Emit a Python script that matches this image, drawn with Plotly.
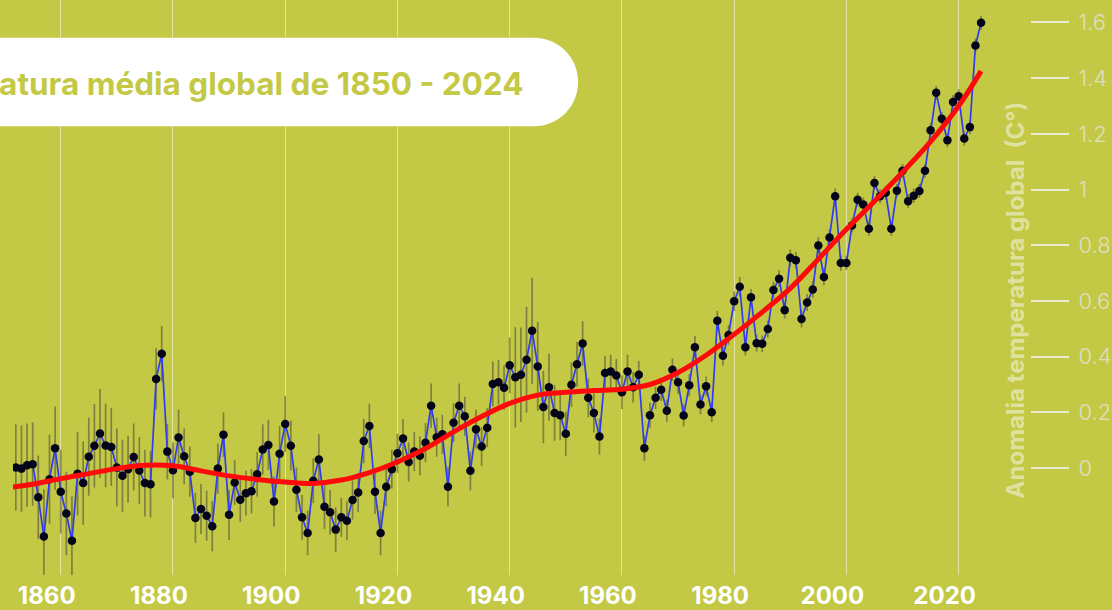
import plotly.graph_objects as go

# ---------------- data ----------------
years = list(range(1850, 2025))

anomaly = [
    # 1850-1859
    -0.180, 0.000, 0.002, -0.002, 0.010, 0.014, -0.105, -0.246, -0.040, 0.071,
    # 1860-1869
    -0.085, -0.163, -0.261, -0.020, -0.054, 0.041, 0.080, 0.124, 0.081, 0.076,
    # 1870-1879
    0.002, -0.028, -0.004, 0.040, -0.009, -0.054, -0.058, 0.320, 0.410, 0.059,
    # 1880-1889
    -0.008, 0.110, 0.042, -0.013, -0.179, -0.147, -0.171, -0.209, -0.002, 0.120,
    # 1890-1899
    -0.168, -0.052, -0.114, -0.090, -0.083, -0.022, 0.067, 0.083, -0.120, 0.051,
    # 1900-1909
    0.158, 0.080, -0.078, -0.177, -0.233, -0.046, 0.031, -0.139, -0.159, -0.221,
    # 1910-1919
    -0.177, -0.189, -0.115, -0.088, 0.097, 0.151, -0.085, -0.233, -0.067, -0.004,
    # 1920-1929
    0.053, 0.106, 0.022, 0.059, 0.044, 0.091, 0.224, 0.111, 0.121, -0.067,
    # 1930-1939
    0.163, 0.224, 0.186, -0.010, 0.139, 0.077, 0.145, 0.302, 0.308, 0.288,
    # 1940-1949
    0.369, 0.326, 0.335, 0.389, 0.493, 0.365, 0.219, 0.290, 0.198, 0.190,
    # 1950-1959
    0.123, 0.299, 0.373, 0.447, 0.252, 0.198, 0.113, 0.341, 0.347, 0.332,
    # 1960-1969
    0.272, 0.347, 0.290, 0.335, 0.071, 0.190, 0.252, 0.281, 0.206, 0.353,
    # 1970-1979
    0.308, 0.189, 0.297, 0.434, 0.228, 0.294, 0.200, 0.529, 0.403, 0.478,
    # 1980-1989
    0.599, 0.651, 0.434, 0.613, 0.448, 0.446, 0.499, 0.639, 0.680, 0.567,
    # 1990-1999
    0.755, 0.746, 0.535, 0.594, 0.641, 0.799, 0.686, 0.828, 0.976, 0.736,
    # 2000-2009
    0.736, 0.871, 0.963, 0.946, 0.859, 1.023, 0.976, 0.988, 0.859, 0.996,
    # 2010-2019
    1.067, 0.958, 0.978, 0.995, 1.067, 1.213, 1.347, 1.254, 1.177, 1.314,
    # 2020-2024
    1.335, 1.183, 1.224, 1.517, 1.599,
]

uncertainty = [
    # 1850-1859
    0.16, 0.16, 0.155, 0.155, 0.15, 0.15, 0.15, 0.17, 0.16, 0.15,
    # 1860-1869
    0.15, 0.15, 0.16, 0.15, 0.15, 0.14, 0.15, 0.16, 0.15, 0.14,
    # 1870-1879
    0.14, 0.13, 0.12, 0.12, 0.12, 0.12, 0.12, 0.11, 0.10, 0.10,
    # 1880-1889
    0.10, 0.10, 0.10, 0.09, 0.09, 0.09, 0.09, 0.09, 0.09, 0.08,
    # 1890-1899
    0.09, 0.08, 0.08, 0.08, 0.08, 0.08, 0.09, 0.09, 0.09, 0.10,
    # 1900-1909
    0.10, 0.09, 0.08, 0.08, 0.08, 0.08, 0.09, 0.08, 0.08, 0.08,
    # 1910-1919
    0.07, 0.07, 0.07, 0.07, 0.08, 0.08, 0.08, 0.08, 0.07, 0.07,
    # 1920-1929
    0.07, 0.07, 0.07, 0.07, 0.07, 0.07, 0.08, 0.07, 0.07, 0.07,
    # 1930-1939
    0.07, 0.08, 0.07, 0.07, 0.07, 0.07, 0.07, 0.08, 0.08, 0.08,
    # 1940-1949
    0.10, 0.18, 0.17, 0.19, 0.19, 0.16, 0.13, 0.12, 0.10, 0.09,
    # 1950-1959
    0.08, 0.08, 0.08, 0.08, 0.07, 0.07, 0.065, 0.06, 0.06, 0.06,
    # 1960-1969
    0.06, 0.06, 0.055, 0.05, 0.045, 0.045, 0.04, 0.04, 0.04, 0.04,
    # 1970-1979
    0.04, 0.04, 0.04, 0.04, 0.035, 0.035, 0.035, 0.035, 0.035, 0.035,
    # 1980-1989
    0.035, 0.035, 0.03, 0.03, 0.03, 0.03, 0.03, 0.03, 0.03, 0.03,
    # 1990-1999
    0.03, 0.03, 0.03, 0.03, 0.03, 0.03, 0.03, 0.03, 0.028, 0.028,
    # 2000-2009
    0.025, 0.025, 0.025, 0.025, 0.025, 0.025, 0.025, 0.025, 0.025, 0.025,
    # 2010-2019
    0.025, 0.025, 0.025, 0.025, 0.025, 0.025, 0.025, 0.025, 0.025, 0.025,
    # 2020-2024
    0.025, 0.025, 0.025, 0.025, 0.025,
]

trend_years = [1850, 1855, 1860, 1865, 1870, 1875, 1880, 1885, 1890, 1895,
               1900, 1905, 1910, 1915, 1920, 1925, 1930, 1935, 1940, 1945,
               1950, 1955, 1960, 1965, 1970, 1975, 1980, 1985, 1990, 1995,
               2000, 2005, 2010, 2015, 2020, 2024]
trend_values = [-0.072, -0.058, -0.038, -0.020, -0.002, 0.010, 0.008, -0.010, -0.028, -0.041,
                -0.050, -0.055, -0.043, -0.016, 0.022, 0.070, 0.130, 0.185, 0.232, 0.262,
                0.272, 0.278, 0.283, 0.300, 0.343, 0.405, 0.480, 0.560, 0.645, 0.750,
                0.857, 0.958, 1.062, 1.172, 1.300, 1.425]

xtick_vals = [1860, 1880, 1900, 1920, 1940, 1960, 1980, 2000, 2020]
xtick_text = ["1860", "1880", "1900", "1920", "1940", "1960", "1980", "2000", "2020"]
ytick_vals = [0, 0.2, 0.4, 0.6, 0.8, 1.0, 1.2, 1.4, 1.6]
ytick_text = ["0", "0.2", "0.4", "0.6", "0.8", "1", "1.2", "1.4", "1.6"]

title_text = "Temperatura média global de 1850 - 2024"
yaxis_title = "Anomalia temperatura global  (C°)"

# ---------------- style ----------------
BG = "#c4c945"
W, H = 1112, 610
PL, PR, PT, PB = 13, 1030, 0, 578  # plot area in pixels


def px2paper(x, y):
    return (x - PL) / (PR - PL), (PB - y) / (PB - PT)


fig = go.Figure()

# error bars (behind)
fig.add_trace(go.Scatter(
    x=years, y=anomaly, mode="markers",
    marker=dict(size=1, color="rgba(0,0,0,0)"),
    error_y=dict(type="data", array=uncertainty, visible=True,
                 color="rgba(80,80,62,0.6)", thickness=1.7, width=0),
    hoverinfo="skip", showlegend=False,
))

# yearly series
fig.add_trace(go.Scatter(
    x=years, y=anomaly, mode="lines+markers",
    line=dict(color="#2f3cf0", width=1.7),
    marker=dict(color="#05051a", size=8.5),
    showlegend=False,
))

# smoothed trend
fig.add_trace(go.Scatter(
    x=trend_years, y=trend_values, mode="lines",
    line=dict(color="#ff0a0a", width=5, shape="spline", smoothing=1.0),
    showlegend=False,
))

# x range from pixel geometry: 5.612 px per year, 1900 at x=285.2
ppy = 5.612
x0 = 1900 + (PL - 285.2) / ppy
x1 = 1900 + (PR - 285.2) / ppy
# y range: 0 at y=470.5, 280 px per unit
ppu = 280.0
y_top = (470.5 - PT) / ppu
y_bot = -(PB - 470.5) / ppu

# rounded title box (paper coords)
L, R, T, B, r = -40, 578, 38, 127, 44
k = 0.5523


def P(x, y):
    px, py = px2paper(x, y)
    return f"{px:.5f},{py:.5f}"


path = (f"M {P(L, T)} L {P(R - r, T)} "
        f"C {P(R - r + k * r, T)} {P(R, T + r - k * r)} {P(R, T + r)} "
        f"L {P(R, B - r)} "
        f"C {P(R, B - r + k * r)} {P(R - r + k * r, B)} {P(R - r, B)} "
        f"L {P(L, B)} Z")

fig.add_shape(type="path", path=path, xref="paper", yref="paper",
              fillcolor="white", line=dict(width=0), layer="above")

tx, ty = px2paper(525, 84)
fig.add_annotation(
    x=tx, y=ty, xref="paper", yref="paper", xanchor="right", yanchor="middle",
    text=title_text, showarrow=False,
    font=dict(family="Inter", size=31.5, color=BG, weight=700),
)

ax, ay = px2paper(1015, 302)
fig.add_annotation(
    x=ax, y=ay, xref="paper", yref="paper", xanchor="center", yanchor="middle",
    text=yaxis_title, showarrow=False, textangle=-90,
    font=dict(family="Inter", size=24, color="rgba(238,240,205,0.68)", weight=700),
)

fig.update_layout(
    width=W, height=H,
    margin=dict(l=PL, r=W - PR, t=PT, b=H - PB, pad=0),
    paper_bgcolor=BG, plot_bgcolor=BG,
    xaxis=dict(
        range=[x0, x1], tickvals=xtick_vals, ticktext=xtick_text,
        showgrid=True, gridcolor="rgba(245,245,225,0.6)", gridwidth=1.3,
        zeroline=False, showline=False, ticks="",
        ticklabelshift=-14, ticklabelstandoff=4,
        tickfont=dict(family="Inter", size=24, color="white", weight=700),
    ),
    yaxis=dict(
        range=[y_bot, y_top], side="right", tickvals=ytick_vals, ticktext=ytick_text,
        showgrid=False, zeroline=False, showline=False,
        ticks="outside", ticklen=38, tickwidth=1.5, tickcolor="rgba(240,240,230,0.85)",
        ticklabelstandoff=5,
        tickfont=dict(family="Inter", size=22, color="rgba(225,226,215,0.9)", weight=300),
    ),
    hovermode=False,
)

fig.write_html("out.html", config={"displayModeBar": False},
               post_script="document.body.style.margin='0';")
